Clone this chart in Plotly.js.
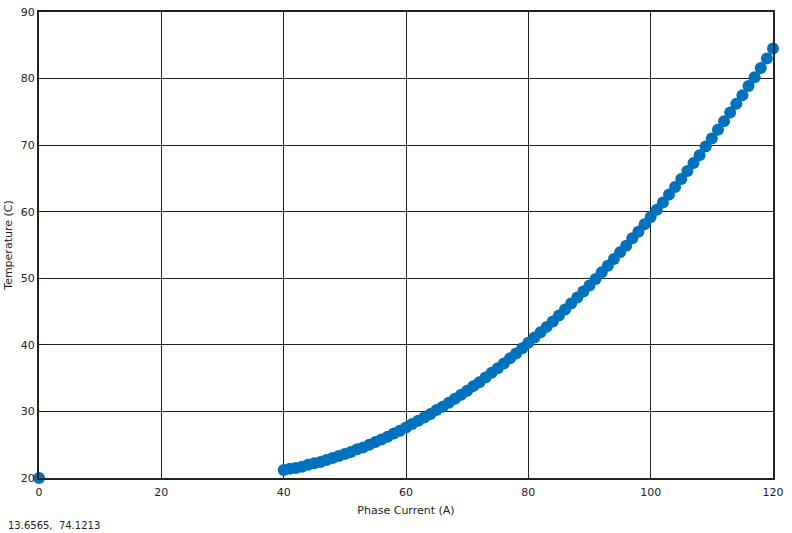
<!DOCTYPE html>
<html>
<head>
<meta charset="utf-8">
<script src="https://cdn.plot.ly/plotly-3.0.1.min.js"></script>
<style>html,body{margin:0;padding:0;background:#fff;}#chart{width:792px;height:533px;}</style>
</head>
<body>
<div id="chart"></div>
<script>
// Phase current (A)
var current = [0,
  40,41,42,43,44,45,46,47,48,49,
  50,51,52,53,54,55,56,57,58,59,
  60,61,62,63,64,65,66,67,68,69,
  70,71,72,73,74,75,76,77,78,79,
  80,81,82,83,84,85,86,87,88,89,
  90,91,92,93,94,95,96,97,98,99,
  100,101,102,103,104,105,106,107,108,109,
  110,111,112,113,114,115,116,117,118,119,
  120];
// Temperature (C)
var temperature = [20,
  21.2,21.4,21.5,21.7,22.0,22.2,22.4,22.7,23.0,23.3,
  23.6,23.9,24.3,24.6,25.0,25.4,25.8,26.2,26.7,27.1,
  27.6,28.1,28.6,29.1,29.6,30.2,30.7,31.3,31.9,32.5,
  33.1,33.8,34.4,35.1,35.8,36.5,37.2,38.0,38.7,39.5,
  40.3,41.1,41.9,42.7,43.5,44.4,45.3,46.2,47.1,48.0,
  48.9,49.9,50.9,51.9,52.9,53.9,54.9,56.0,57.0,58.1,
  59.2,60.3,61.4,62.6,63.7,64.9,66.1,67.3,68.5,69.8,
  71.0,72.3,73.6,74.9,76.2,77.5,78.9,80.2,81.6,83.0,
  84.5];
var xTicks = [0,20,40,60,80,100,120];
var yTicks = [20,30,40,50,60,70,80,90];
var cursorText = "13.6565,&nbsp;&nbsp;74.1213";

var font = {family: "DejaVu Sans, sans-serif", size: 11, color: "#222"};
var trace = {
  x: current, y: temperature, type: "scatter", mode: "markers",
  marker: {color: "#0072BD", size: 12},
  cliponaxis: false, hoverinfo: "none"
};
var layout = {
  width: 792, height: 533,
  margin: {l: 39, r: 19, t: 12, b: 55},
  paper_bgcolor: "#fff", plot_bgcolor: "#fff",
  font: font,
  showlegend: false,
  xaxis: {
    range: [0, 120], tickvals: xTicks, ticktext: xTicks.map(String),
    showgrid: true, gridcolor: "#222", gridwidth: 1,
    showline: true, linecolor: "#222", linewidth: 2, mirror: true,
    ticks: "", ticklabelstandoff: 3, zeroline: false, fixedrange: true,
    title: {text: "Phase Current (A)", font: font, standoff: 8}
  },
  yaxis: {
    range: [20, 90], tickvals: yTicks, ticktext: yTicks.map(String),
    showgrid: true, gridcolor: "#222", gridwidth: 1,
    showline: true, linecolor: "#222", linewidth: 2, mirror: true,
    ticks: "", zeroline: false, fixedrange: true,
    title: {text: "Temperature (C)", font: font, standoff: 6}
  },
  annotations: [{
    xref: "paper", yref: "paper", x: -0.045, y: -0.103,
    xanchor: "left", yanchor: "middle", showarrow: false,
    text: cursorText, font: {family: font.family, size: 10, color: "#222"}
  }]
};
Plotly.newPlot("chart", [trace], layout, {displayModeBar: false, staticPlot: true});
</script>
</body>
</html>
